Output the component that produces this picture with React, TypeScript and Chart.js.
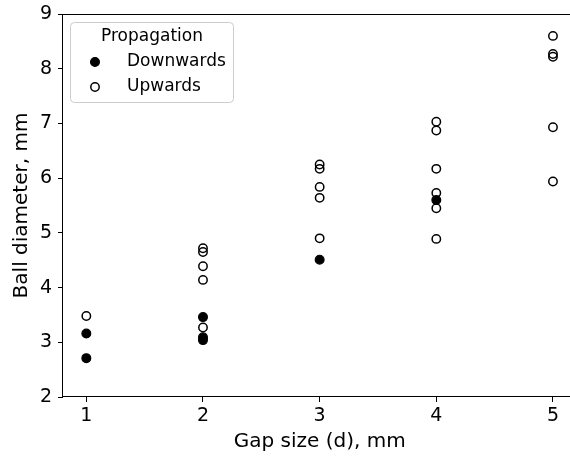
import React, { useEffect, useRef } from "react";
import { Chart, registerables } from "chart.js";

Chart.register(...registerables);

const seriesLabels = ["Downwards", "Upwards"];
const legendTitle = "Propagation";
const xTitle = "Gap size (d), mm";
const yTitle = "Ball diameter, mm";

const downX = [1, 1, 2, 2, 2, 3, 4];
const downY = [3.16, 2.71, 3.46, 3.09, 3.04, 4.51, 5.6];

const upX = [1, 2, 2, 2, 2, 2, 3, 3, 3, 3, 3, 4, 4, 4, 4, 4, 4, 5, 5, 5, 5, 5];
const upY = [
  3.48, 4.72, 4.65, 4.39, 4.14, 3.27, 6.25, 6.17, 5.84, 5.64, 4.9, 7.03, 6.87,
  6.17, 5.73, 5.45, 4.89, 8.6, 8.27, 8.22, 6.93, 5.94,
];

const xTicks = [1, 2, 3, 4, 5];
const yTicks = [2, 3, 4, 5, 6, 7, 8, 9];

const FONT = "'DejaVu Sans', sans-serif";

const framePlugin = {
  id: "frame",
  afterDatasetsDraw(chart: any) {
    const { ctx, chartArea } = chart;
    ctx.save();
    ctx.strokeStyle = "#000";
    ctx.lineWidth = 1;
    ctx.strokeRect(
      Math.round(chartArea.left) - 0.5,
      Math.round(chartArea.top) + 0.5,
      Math.round(chartArea.right - chartArea.left) + 1,
      Math.round(chartArea.bottom - chartArea.top) - 1
    );
    ctx.restore();
  },
};

const legendPlugin = {
  id: "innerLegend",
  afterDraw(chart: any) {
    const { ctx } = chart;
    const x0 = 70.5;
    const y0 = 22.5;
    const w = 163;
    const h = 80;
    const r = 4;
    ctx.save();
    ctx.beginPath();
    ctx.moveTo(x0 + r, y0);
    ctx.lineTo(x0 + w - r, y0);
    ctx.arcTo(x0 + w, y0, x0 + w, y0 + r, r);
    ctx.lineTo(x0 + w, y0 + h - r);
    ctx.arcTo(x0 + w, y0 + h, x0 + w - r, y0 + h, r);
    ctx.lineTo(x0 + r, y0 + h);
    ctx.arcTo(x0, y0 + h, x0, y0 + h - r, r);
    ctx.lineTo(x0, y0 + r);
    ctx.arcTo(x0, y0, x0 + r, y0, r);
    ctx.closePath();
    ctx.fillStyle = "rgba(255,255,255,0.8)";
    ctx.fill();
    ctx.strokeStyle = "#cccccc";
    ctx.lineWidth = 1;
    ctx.stroke();

    ctx.fillStyle = "#000";
    ctx.font = `17px ${FONT}`;
    ctx.textBaseline = "middle";
    ctx.textAlign = "center";
    ctx.fillText(legendTitle, 152, 37);

    const rows = [62, 87];
    chart.data.datasets.forEach((ds: any, i: number) => {
      const cy = rows[i];
      ctx.beginPath();
      ctx.arc(95, cy, ds.pointRadius, 0, Math.PI * 2);
      ctx.fillStyle = ds.pointBackgroundColor;
      ctx.fill();
      ctx.lineWidth = ds.pointBorderWidth;
      ctx.strokeStyle = ds.pointBorderColor;
      ctx.stroke();
      ctx.fillStyle = "#000";
      ctx.textAlign = "left";
      ctx.fillText(ds.label, 127, cy);
    });
    ctx.restore();
  },
};

export default function App() {
  const ref = useRef<HTMLCanvasElement | null>(null);

  useEffect(() => {
    if (!ref.current) return;
    const chart = new Chart(ref.current, {
      type: "scatter",
      data: {
        datasets: [
          {
            label: seriesLabels[0],
            data: downX.map((x, i) => ({ x, y: downY[i] })),
            pointRadius: 4.4,
            pointBackgroundColor: "#000",
            pointBorderColor: "#000",
            pointBorderWidth: 1.2,
            pointHoverRadius: 4.4,
          },
          {
            label: seriesLabels[1],
            data: upX.map((x, i) => ({ x, y: upY[i] })),
            pointRadius: 4.2,
            pointBackgroundColor: "rgba(0,0,0,0)",
            pointBorderColor: "#000",
            pointBorderWidth: 1.5,
            pointHoverRadius: 4.2,
          },
        ],
      },
      options: {
        responsive: false,
        animation: false,
        devicePixelRatio: 1,
        layout: { padding: { top: 14, right: 0, left: 0, bottom: 0 } },
        plugins: {
          legend: { display: false },
          tooltip: { enabled: false },
        },
        scales: {
          x: {
            type: "linear",
            min: 0.8,
            max: 5.2,
            afterBuildTicks: (s: any) => {
              s.ticks = xTicks.map((v) => ({ value: v }));
            },
            afterFit: (s: any) => {
              s.height = 63;
              s.paddingLeft = 0;
              s.paddingRight = 0;
            },
            grid: {
              drawOnChartArea: false,
              drawTicks: true,
              tickLength: 5,
              tickColor: "#000",
              color: "#000",
            },
            border: { display: false },
            ticks: {
              color: "#000",
              padding: 3,
              font: { family: FONT, size: 19 },
              callback: (v: any) => String(v),
            },
            title: {
              display: true,
              text: xTitle,
              color: "#000",
              font: { family: FONT, size: 20 },
              padding: { top: 0, bottom: 6 },
            },
          },
          y: {
            type: "linear",
            min: 2,
            max: 9,
            afterBuildTicks: (s: any) => {
              s.ticks = yTicks.map((v) => ({ value: v }));
            },
            afterFit: (s: any) => {
              s.width = 63;
              s.paddingTop = 0;
              s.paddingBottom = 0;
            },
            grid: {
              drawOnChartArea: false,
              drawTicks: true,
              tickLength: 5,
              tickColor: "#000",
              color: "#000",
            },
            border: { display: false },
            ticks: {
              color: "#000",
              padding: 6,
              font: { family: FONT, size: 19 },
              callback: (v: any) => String(v),
            },
            title: {
              display: true,
              text: yTitle,
              color: "#000",
              font: { family: FONT, size: 20 },
              padding: { top: 10, bottom: 0 },
            },
          },
        },
      },
      plugins: [framePlugin, legendPlugin],
    });
    return () => chart.destroy();
  }, []);

  return (
    <div
      style={{
        position: "absolute",
        left: 0,
        top: 0,
        width: 570,
        height: 460,
        overflow: "hidden",
        background: "#fff",
      }}
    >
      <canvas ref={ref} width={582} height={460} style={{ display: "block" }} />
    </div>
  );
}
